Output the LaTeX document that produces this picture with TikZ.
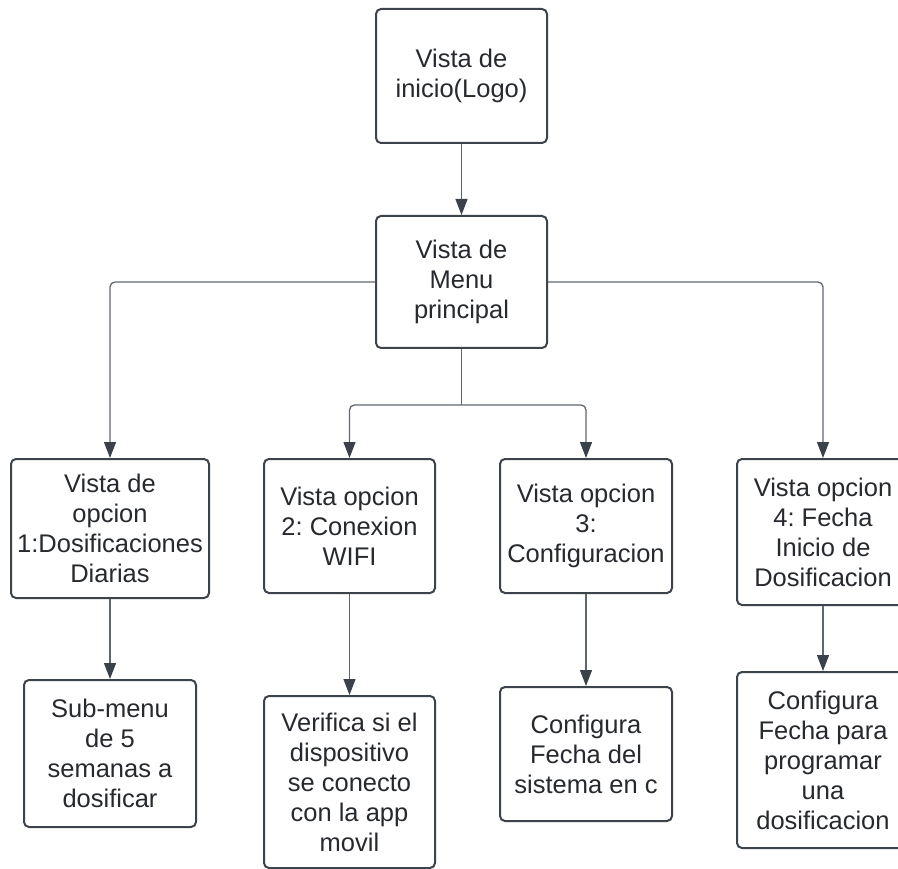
\documentclass[tikz,border=0pt]{standalone}
\usepackage{fontspec}
\setmainfont{Liberation Sans}
\usetikzlibrary{arrows.meta,calc}
\definecolor{boxline}{HTML}{3D434B}
\definecolor{conn}{HTML}{5F6670}
\definecolor{tipfill}{HTML}{3B414A}
\definecolor{txt}{HTML}{26292D}
\frenchspacing
\tikzset{
  viewbox/.style={draw=boxline, line width=2pt, rounded corners=5pt,
    align=center, text=txt, inner sep=0pt,
    font=\fontsize{25.5pt}{30pt}\selectfont},
  link/.style={draw=conn, line width=1.3pt, rounded corners=5pt,
    -{Triangle[length=16pt,width=12pt,fill=tipfill,color=tipfill]}},
  plainlink/.style={draw=conn, line width=1.3pt, rounded corners=5pt}
}
\begin{document}
\begin{tikzpicture}[x=1pt,y=-1pt]
\useasboundingbox (0,0) rectangle (898,869);
\clip (0,0) rectangle (898,869);

% top level
\node[viewbox, minimum width=171pt, minimum height=134pt] (start) at (461.5,76) {Vista de\\inicio(Logo)};
\node[viewbox, minimum width=171pt, minimum height=132pt] (menu) at (461.5,282) {Vista de\\Menu\\principal};

% options
\node[viewbox, minimum width=198pt, minimum height=139pt] (o1) at (110,528.5) {Vista de\\opcion\\1:Dosificaciones\\Diarias};
\node[viewbox, minimum width=171pt, minimum height=134pt] (o2) at (349.5,526) {Vista opcion\\2: Conexion\\WIFI};
\node[viewbox, minimum width=172pt, minimum height=134pt] (o3) at (586,526) {Vista opcion\\3:\\Configuracion};
\node[viewbox, minimum width=172pt, minimum height=146pt] (o4) at (823,532) {Vista opcion\\4: Fecha\\Inicio de\\Dosificacion};

% details
\node[viewbox, minimum width=172pt, minimum height=147pt] (s1) at (110,753.5) {Sub-menu\\de 5\\semanas a\\dosificar};
\node[viewbox, minimum width=171pt, minimum height=172pt] (s2) at (349.5,782) {Verifica si el\\dispositivo\\se conecto\\con la app\\movil};
\node[viewbox, minimum width=172pt, minimum height=134pt] (s3) at (586,754) {Configura\\Fecha del\\sistema en c};
\node[viewbox, minimum width=172pt, minimum height=176pt] (s4) at (823,760) {Configura\\Fecha para\\programar\\una\\dosificacion};

% connectors
\draw[link] (start) -- (menu);
\draw[link] (menu.west) -| (o1.north);
\draw[link] (menu.east) -| (o4.north);
\coordinate (br) at ($(menu.south)+(0,56)$);
\draw[plainlink] (menu.south) -- (br);
\draw[link] (br) -| (o2.north);
\draw[link] (br) -| (o3.north);
\draw[link] (o1) -- (s1);
\draw[link] (o2) -- (s2);
\draw[link] (o3) -- (s3);
\draw[link] (o4) -- (s4);
\end{tikzpicture}
\end{document}
